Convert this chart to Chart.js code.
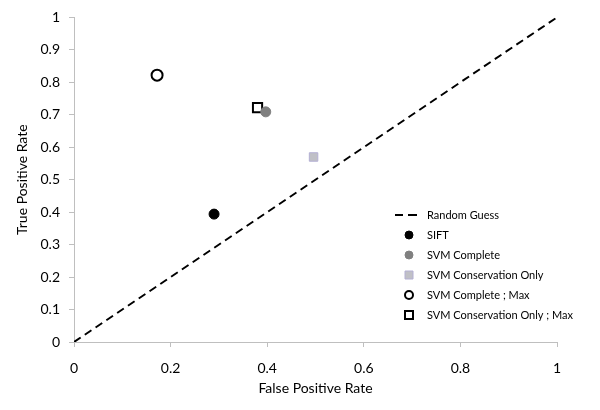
<!DOCTYPE html>
<html>
<head>
<meta charset="utf-8">
<script src="https://cdn.jsdelivr.net/npm/chart.js@4.4.0/dist/chart.umd.min.js"></script>
<style>
  html, body { margin: 0; padding: 0; background: #fff; }
  #wrap { width: 600px; height: 410px; }
</style>
</head>
<body>
<div id="wrap"><canvas id="roc"></canvas></div>
<script>
// values
var guessX = [0, 1];
var guessY = [0, 1];
var seriesNames = ['SIFT', 'SVM Complete', 'SVM Conservation Only', 'SVM Complete ; Max', 'SVM Conservation Only ; Max'];
var fprValues = [0.290, 0.397, 0.496, 0.172, 0.380];
var tprValues = [0.394, 0.709, 0.570, 0.822, 0.722];
var xTicks = [0, 0.2, 0.4, 0.6, 0.8, 1];
var yTicks = [0, 0.1, 0.2, 0.3, 0.4, 0.5, 0.6, 0.7, 0.8, 0.9, 1];

var fontName = 'Lato, "Open Sans", sans-serif';
var axisGray = '#bfbfbf';

var styles = [
	{shape: 'circle', r: 5, fill: '#000000', stroke: '#000000', w: 1},
	{shape: 'circle', r: 5, fill: '#808080', stroke: '#808080', w: 1},
	{shape: 'rect', r: 6, fill: '#c0c0c6', stroke: '#b4b0d4', w: 1},
	{shape: 'circle', r: 5.5, fill: '#ffffff', stroke: '#000000', w: 2},
	{shape: 'rect', r: 6.5, fill: '#ffffff', stroke: '#000000', w: 2}
];

var datasets = [{
	label: 'Random Guess',
	type: 'line',
	data: guessX.map(function(x, i){ return {x: x, y: guessY[i]}; }),
	borderColor: '#000000',
	borderWidth: 2,
	borderDash: [8, 5],
	pointRadius: 0,
	fill: false
}];

for(let i = 0; i < seriesNames.length; i++){
	let s = styles[i];
	datasets.push({
		label: seriesNames[i],
		type: 'scatter',
		data: [{x: fprValues[i], y: tprValues[i]}],
		pointStyle: s.shape,
		pointRadius: s.r,
		backgroundColor: s.fill,
		borderColor: s.stroke,
		borderWidth: s.w
	});
}

// legend drawn inside the plot, lower right
var boxLegend = {
	id: 'boxLegend',
	afterDraw: function(chart){
		let ctx = chart.ctx;
		let x0 = 395, y0 = 215, step = 20;
		ctx.save();
		ctx.font = '11px ' + fontName;
		ctx.textBaseline = 'middle';
		ctx.fillStyle = '#000';
		chart.data.datasets.forEach(function(ds, i){
			let y = y0 + i * step;
			if(i === 0){
				ctx.strokeStyle = '#000';
				ctx.lineWidth = 2;
				ctx.beginPath();
				ctx.moveTo(x0, y); ctx.lineTo(x0 + 8, y);
				ctx.moveTo(x0 + 13, y); ctx.lineTo(x0 + 22, y);
				ctx.stroke();
			}else{
				let s = styles[i - 1];
				ctx.fillStyle = s.fill;
				ctx.strokeStyle = s.stroke;
				ctx.lineWidth = s.w;
				ctx.beginPath();
				if(s.shape === 'circle'){
					ctx.arc(x0 + 14, y, 4, 0, Math.PI * 2);
				}else{
					ctx.rect(x0 + 10, y - 4, 8, 8);
				}
				ctx.fill();
				ctx.stroke();
			}
			ctx.fillStyle = '#000';
			ctx.fillText(ds.label, x0 + 32, y);
		});
		ctx.restore();
	}
};

function plainTick(v){
	return String(Math.round(v * 10) / 10);
}

new Chart(document.getElementById('roc'), {
	type: 'scatter',
	data: {datasets: datasets},
	plugins: [boxLegend],
	options: {
		responsive: true,
		maintainAspectRatio: false,
		animation: false,
		layout: {padding: {top: 15, right: 43, left: 14, bottom: 13}},
		plugins: {
			legend: {display: false},
			tooltip: {enabled: false}
		},
		scales: {
			x: {
				type: 'linear',
				min: 0,
				max: 1,
				afterBuildTicks: function(axis){ axis.ticks = xTicks.map(function(v){ return {value: v}; }); },
				afterFit: function(axis){ axis.height = 55; },
				grid: {drawOnChartArea: false, drawTicks: true, tickLength: 5, color: axisGray},
				border: {color: axisGray, width: 1},
				ticks: {color: '#000', font: {family: fontName, size: 14}, padding: 13, maxRotation: 0, callback: plainTick},
				title: {display: true, text: 'False Positive Rate', color: '#000', font: {family: fontName, size: 14}, padding: 0}
			},
			y: {
				type: 'linear',
				min: 0,
				max: 1,
				afterBuildTicks: function(axis){ axis.ticks = yTicks.map(function(v){ return {value: v}; }); },
				afterFit: function(axis){ axis.width = 60; },
				grid: {drawOnChartArea: false, drawTicks: true, tickLength: 5, color: axisGray},
				border: {color: axisGray, width: 1},
				ticks: {color: '#000', font: {family: fontName, size: 14}, padding: 9, callback: plainTick},
				title: {display: true, text: 'True Positive Rate', color: '#000', font: {family: fontName, size: 14}, padding: 0}
			}
		}
	}
});
</script>
</body>
</html>
